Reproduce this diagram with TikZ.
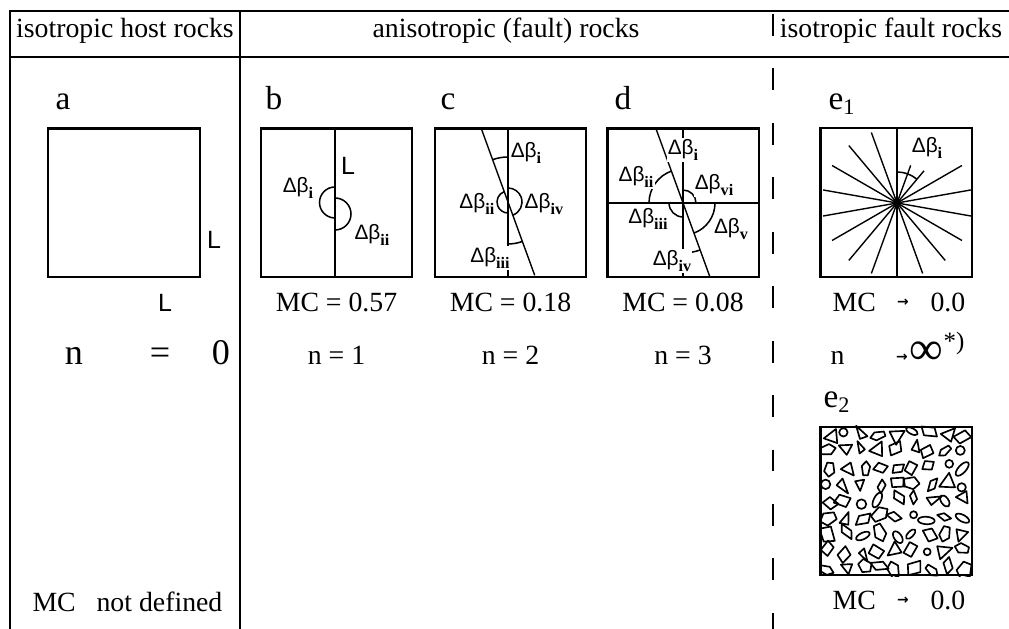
\documentclass[tikz,border=0pt]{standalone}
\usepackage{fontspec}
\setmainfont{Liberation Serif}
\setsansfont{Liberation Sans}
\newfontfamily\symfont{DejaVu Sans}
\usetikzlibrary{calc}
\newcommand{\dbeta}[1]{Δβ\raisebox{-0.55ex}{\rmfamily\bfseries\fontsize{5.8}{6}\selectfont #1}}

\begin{document}
\begin{tikzpicture}[x=0.36pt, y=0.36pt,
    rule/.style={line width=0.55pt},
    panel/.style={draw, line width=0.75pt, minimum width=54.4pt, minimum height=53.6pt, inner sep=0pt},
    fault/.style={line width=0.5pt},
    angarc/.style={line width=0.55pt},
    ang/.style={font=\sffamily\fontsize{7.5}{8}\selectfont, fill=white, inner sep=0.4pt},
    hdr/.style={font=\fontsize{10}{12}\selectfont, anchor=base, inner sep=0pt},
    plabel/.style={font=\fontsize{12}{14}\selectfont, anchor=base west, inner sep=0pt},
    val/.style={font=\fontsize{10}{12}\selectfont, anchor=base, inner sep=0pt},
    side/.style={font=\sffamily\fontsize{9}{10}\selectfont, inner sep=0pt},
    tendto/.style={font=\symfont\bfseries\fontsize{5}{5}\selectfont, inner sep=0pt},
    frag/.style={line width=0.6pt, line join=round},
]
\useasboundingbox (0,0) rectangle (1009,629);

% table rules
\draw[rule] (10,0) -- (10,618) -- (1009,618);
\draw[rule] (10,572) -- (1009,572);
\draw[rule] (240,618) -- (240,0);
\draw[rule, dash pattern=on 7.9pt off 11.7pt] (773,615) -- (773,0);

\node[hdr] (hhost)  at (125,591) {isotropic host rocks};
\node[hdr] (haniso) at (506,591) {anisotropic (fault) rocks};
\node[hdr] (hfault) at (891,591) {isotropic fault rocks};

\node[plabel] (ta)  at (55,519)  {a};
\node[plabel] (tb)  at (265,519) {b};
\node[plabel] (tc)  at (440,519) {c};
\node[plabel] (td)  at (614,519) {d};
\node[plabel] (te1) at (828,519) {e\textsubscript{1}};
\node[plabel] (te2) at (823,221) {e\textsubscript{2}};

% sample squares
\node[panel] (pa)  at (124,426)   {};
\node[panel] (pb)  at (336.5,426) {};
\node[panel] (pc)  at (510.5,426) {};
\node[panel] (pd)  at (683,426)   {};
\node[panel] (pe1) at (896,426.5) {};
\node[panel] (pe2) at (896,128)   {};

% a: host rock
\node[side] (lar) at (214,389) {L};
\node[side, anchor=base] (lab) at (165,317) {L};

% b: one fault
\coordinate (ob) at (335,426.5);
\draw[fault] (ob |- pb.north) -- (ob |- pb.south);
\draw[angarc] ($(ob)+(0,15.5)$) arc[start angle=90, end angle=270, radius=15.5];
\draw[angarc] ($(ob)+(0,4.5)$) arc[start angle=90, end angle=-90, radius=16];
\node[side] (lb) at (348,463) {L};
\node[ang] (b1) at (298,441) {\dbeta{i}};
\node[ang] (b2) at (372,394) {\dbeta{ii}};

% c: two faults
\coordinate (oc) at (508,427);
\draw[fault] (oc |- pc.north) -- (oc |- pc.south);
\draw[fault] (oc) -- ++(110:78) (oc) -- ++(-70:78);
\draw[angarc] (oc) ++(90:45) arc[start angle=90, end angle=110, radius=45];
\draw[angarc] (oc) ++(110:11) arc[start angle=110, end angle=270, radius=11];
\draw[angarc] (oc) ++(-70:14) arc[start angle=-70, end angle=90, radius=14];
\draw[angarc] (oc) ++(270:42) arc[start angle=270, end angle=290, radius=42];
\node[ang] (c1) at (526,476) {\dbeta{i}};
\node[ang, anchor=east] (c2) at (496,425) {\dbeta{ii}};
\node[ang, anchor=west] (c4) at (523,425) {\dbeta{iv}};
\node[ang] (c3) at (490,371) {\dbeta{iii}};

% d: three faults
\coordinate (od) at (683,426);
\draw[fault] (pd.west) -- (pd.east);
\draw[fault] (od |- pd.north) -- (od |- pd.south);
\draw[fault] (od) -- ++(110:78) (od) -- ++(-70:78);
\draw[angarc] (od) ++(90:47) arc[start angle=90, end angle=110, radius=47];
\draw[angarc] (od) ++(110:34) arc[start angle=110, end angle=180, radius=34];
\draw[angarc] (od) ++(0:13) arc[start angle=0, end angle=90, radius=13];
\draw[angarc] (od) ++(180:14) arc[start angle=180, end angle=270, radius=14];
\draw[angarc] (od) ++(-70:32) arc[start angle=-70, end angle=0, radius=32];
\draw[angarc] (od) ++(270:50) arc[start angle=270, end angle=290, radius=50];
\node[ang] (d1) at (683,479) {\dbeta{i}};
\node[ang] (d2) at (636,452) {\dbeta{ii}};
\node[ang] (d6) at (714,444) {\dbeta{vi}};
\node[ang] (d3) at (648,410) {\dbeta{iii}};
\node[ang] (d5) at (731,400) {\dbeta{v}};
\node[ang] (d4) at (672,368) {\dbeta{iv}};

% e1: many faults through one point (upper reach / lower reach)
\coordinate (oe) at (897,426);
\begin{scope}
  \clip (pe1.south west) rectangle (pe1.north east);
  \foreach \a/\r in {10/75,30/75,50/42,70/40,90/75,110/75,130/75,150/75,170/75}
    \draw[fault] ($(oe)+(\a:\r)$) -- ($(oe)+(\a+180:75)$);
\end{scope}
\draw[angarc] (oe) ++(90:31) arc[start angle=90, end angle=50, radius=31];
\node[ang] (e1) at (927,481) {\dbeta{i}};

% e2: fragments
\begin{scope}
  \clip (pe2.south west) rectangle (pe2.north east);
  \pgfmathsetseed{23}
  \foreach \i in {0,...,8}{
    \foreach \j in {0,...,8}{
      \pgfmathsetmacro{\cx}{829+\i*16.8+3.5*rand}
      \pgfmathsetmacro{\cy}{61+\j*16.8+3.5*rand}
      \pgfmathsetmacro{\rot}{360*rnd}
      \pgfmathsetmacro{\rr}{6.8+3*rnd}
      \pgfmathsetmacro{\sq}{0.5+0.5*rnd}
      \pgfmathtruncatemacro{\kind}{10*rnd}
      \ifcase\kind
        \draw[frag] (\cx,\cy) circle[radius=0.5*\rr];
      \or
        \draw[frag, shift={(\cx,\cy)}, rotate=\rot] (0,0) ellipse[x radius=0.9*\rr, y radius=0.4*\rr];
      \or
        \draw[frag, shift={(\cx,\cy)}, rotate=\rot] (0,0) ellipse[x radius=0.8*\rr, y radius=0.45*\rr];
      \or
        \draw[frag, shift={(\cx,\cy)}, rotate=\rot, yscale=\sq] (0:\rr) -- (130:\rr) -- (245:\rr) -- cycle;
      \or
        \draw[frag, shift={(\cx,\cy)}, rotate=\rot, yscale=\sq] (0:\rr) -- (115:\rr) -- (230:\rr) -- cycle;
      \or
        \draw[frag, shift={(\cx,\cy)}, rotate=\rot, yscale=\sq] (20:\rr) -- (105:\rr) -- (200:\rr) -- (290:\rr) -- cycle;
      \or
        \draw[frag, shift={(\cx,\cy)}, rotate=\rot, yscale=\sq] (10:\rr) -- (80:\rr) -- (190:\rr) -- (260:\rr) -- cycle;
      \or
        \draw[frag, shift={(\cx,\cy)}, rotate=\rot, yscale=\sq] (0:\rr) -- (95:\rr) -- (170:\rr) -- (280:\rr) -- cycle;
      \else
        \draw[frag, shift={(\cx,\cy)}, rotate=\rot, yscale=\sq] (0:\rr) -- (70:\rr) -- (150:\rr) -- (215:\rr) -- (290:\rr) -- cycle;
      \fi
    }
  }
\end{scope}

% MC and n rows
\node[val] (mcb) at (336.5,317) {MC = 0.57};
\node[val] (mcc) at (510.5,317) {MC = 0.18};
\node[val] (mcd) at (683,317)   {MC = 0.08};
\node[val] (nb)  at (336.5,264) {n = 1};
\node[val] (nc)  at (510.5,264) {n = 2};
\node[val] (nd)  at (683,264)   {n = 3};

\node[val, font=\fontsize{13}{15}\selectfont] (na)   at (74,264)  {n};
\node[val, font=\fontsize{13}{15}\selectfont] (eqa)  at (160,264) {=};
\node[val, font=\fontsize{13}{15}\selectfont] (zera) at (221,264) {0};
\node[val, anchor=base west] (mcnd) at (32,17) {MC\hspace{0.75em}not defined};

\node[val, anchor=base west] (mce1) at (832,317) {MC};
\node[tendto] (ae1) at (903,326) {→};
\node[val, anchor=base west] (ze1) at (930,317) {0.0};
\node[val, anchor=base west] (ne) at (830,264) {n};
\node[tendto] (ane) at (902,271) {→};
\node[val, anchor=base west, font=\fontsize{17}{17}\selectfont] (infe) at (909,264) {∞};
\node[val, anchor=base west, font=\fontsize{9}{9}\selectfont] (note) at (943,279) {*)};
\node[val, anchor=base west] (mce2) at (832,19) {MC};
\node[tendto] (ae2) at (903,28) {→};
\node[val, anchor=base west] (ze2) at (930,19) {0.0};
\end{tikzpicture}
\end{document}
